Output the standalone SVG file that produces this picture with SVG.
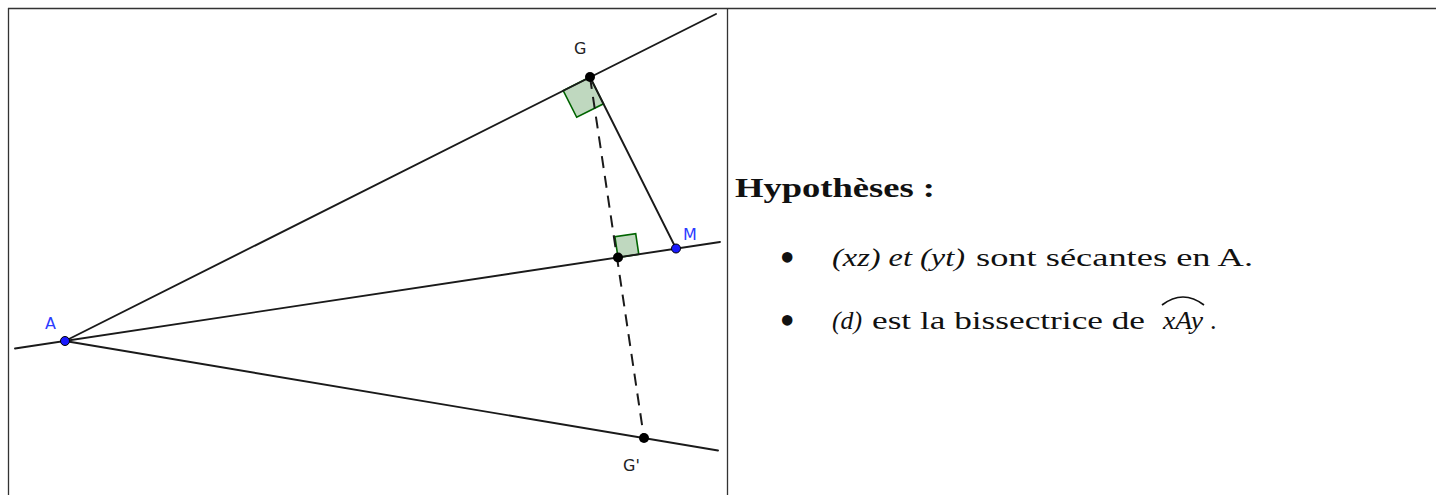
<svg xmlns="http://www.w3.org/2000/svg" width="1436" height="495" viewBox="0 0 1436 495">
<style>
.frame{stroke:#333;stroke-width:1.3;fill:none}
.ln{stroke:#1a1a1a;stroke-width:1.9;fill:none;stroke-linecap:round}
.dash{stroke:#1a1a1a;stroke-width:2;fill:none;stroke-dasharray:12 8}
.ra{stroke:#006400;stroke-width:1.6;fill:#bfd8bf}
.pt{fill:#000}
.bpt{fill:#1a1aff;stroke:#000;stroke-width:1}
.lbl{font-family:"DejaVu Sans",sans-serif;font-size:16px;fill:#222}
.blbl{font-family:"DejaVu Sans",sans-serif;font-size:16px;fill:#2b3bff}
.tx{font-family:"Liberation Serif",serif;font-size:26px;fill:#111}
.bul{font-family:"Liberation Serif",serif;font-size:44px;fill:#111}
.it{font-style:italic}
.hd{font-family:"Liberation Serif",serif;font-size:28px;font-weight:bold;fill:#111}
</style>
<rect width="1436" height="495" fill="#fff"/>
<g id="table">
<line class="frame" x1="8" y1="8.5" x2="1436" y2="8.5"/>
<line class="frame" x1="8.5" y1="8" x2="8.5" y2="495"/>
<line class="frame" x1="727.5" y1="8" x2="727.5" y2="495"/>
</g>
<g id="angles">
<polygon id="rightG" class="ra" points="590,77 563.2,90.5 576.7,117.3 603.5,103.8"/>
<polygon id="rightH" class="ra" points="618,257.5 614.9,236.7 635.7,233.6 638.8,254.4"/>
</g>
<g id="connectors">
<line class="ln" x1="65" y1="341" x2="716" y2="14"/>
<line class="ln" x1="65" y1="341" x2="718" y2="450.5"/>
<line class="ln" x1="15" y1="348.5" x2="720" y2="242"/>
<line class="ln" x1="590" y1="77" x2="676" y2="248.5"/>
<line class="dash" x1="590" y1="77" x2="644" y2="438"/>
</g>
<g id="nodeA"><circle class="bpt" cx="65" cy="341" r="4.5"/><text class="blbl" x="45" y="329">A</text></g>
<g id="nodeG"><circle class="pt" cx="590" cy="77" r="5"/><text class="lbl" x="574" y="54">G</text></g>
<g id="nodeM"><circle class="bpt" cx="676" cy="248.5" r="4.5"/><text class="blbl" x="683" y="240">M</text></g>
<g id="nodeH"><circle class="pt" cx="618" cy="257.5" r="5"/></g>
<g id="nodeGp"><circle class="pt" cx="644" cy="438" r="5"/><text class="lbl" x="623" y="471">G'</text></g>
<g id="hypotheses">
<text class="hd" x="735" y="197" textLength="200" lengthAdjust="spacingAndGlyphs">Hypothèses :</text>
<text class="bul" x="779.5" y="272">•</text>
<text class="tx it" x="832" y="266" textLength="133" lengthAdjust="spacingAndGlyphs">(xz) et (yt)</text>
<text class="tx" x="976" y="266" textLength="277" lengthAdjust="spacingAndGlyphs">sont sécantes en A.</text>
<text class="bul" x="779.5" y="335">•</text>
<text class="tx it" x="832" y="329" textLength="30" lengthAdjust="spacingAndGlyphs">(d)</text>
<text class="tx" x="872" y="329" textLength="273" lengthAdjust="spacingAndGlyphs">est la bissectrice de</text>
<text class="tx it" x="1163" y="329" textLength="40" lengthAdjust="spacingAndGlyphs">xAy</text>
<path d="M1162,305 Q1183,289 1204,305" fill="none" stroke="#111" stroke-width="1.7"/>
<text class="tx" x="1210" y="329">.</text>
</g>
</svg>
